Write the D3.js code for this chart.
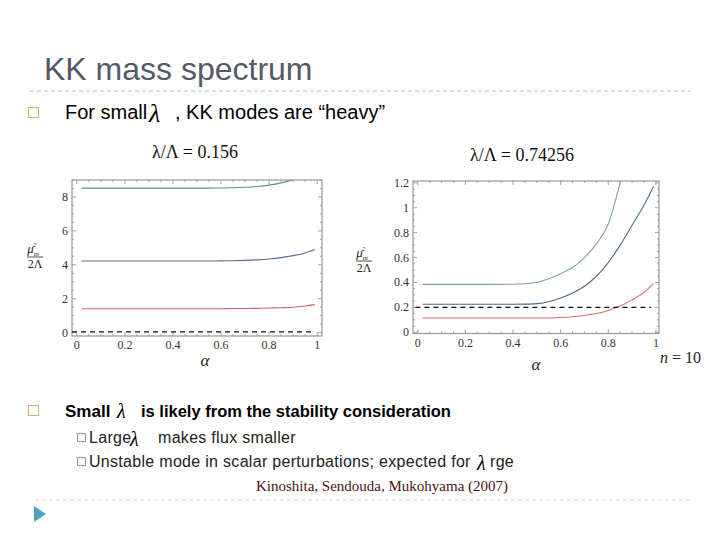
<!DOCTYPE html>
<html><head><meta charset="utf-8">
<script src="https://cdn.jsdelivr.net/npm/d3@7"></script>
<style>body{margin:0;background:#fff}svg{display:block}</style>
</head><body>
<script>
// ---- data ----
const leftAlpha = [0.02,0.1,0.2,0.3,0.4,0.45,0.5,0.55,0.6,0.65,0.7,0.75,0.8,0.85,0.9,0.95,0.99];
const leftTop   = [8.52,8.52,8.52,8.52,8.52,8.52,8.52,8.52,8.53,8.54,8.57,8.62,8.70,8.83,9.02,9.25,9.45];
const leftMid   = [4.22,4.22,4.22,4.22,4.22,4.22,4.22,4.22,4.23,4.24,4.26,4.29,4.34,4.42,4.54,4.70,4.90];
const leftLow   = [1.41,1.41,1.41,1.41,1.41,1.41,1.41,1.41,1.41,1.42,1.42,1.43,1.45,1.47,1.50,1.57,1.65];
const leftDash  = 0.04;
const rightAlpha = [0.02,0.1,0.2,0.3,0.4,0.45,0.5,0.55,0.6,0.65,0.7,0.75,0.8,0.85,0.9,0.95,0.99];
const rightTop   = [0.385,0.385,0.385,0.385,0.386,0.39,0.40,0.43,0.47,0.52,0.60,0.71,0.87,1.20,1.60,2.10,2.60];
const rightMid   = [0.225,0.225,0.225,0.225,0.225,0.226,0.23,0.245,0.275,0.315,0.37,0.45,0.56,0.70,0.86,1.02,1.17];
const rightLow   = [0.115,0.115,0.115,0.115,0.115,0.115,0.115,0.115,0.118,0.125,0.135,0.15,0.175,0.21,0.26,0.32,0.39];
const rightDash  = 0.2;
const leftYTicks = [0,2,4,6,8];
const rightYTicks = [0,0.2,0.4,0.6,0.8,1,1.2];
const xTicks = [0,0.2,0.4,0.6,0.8,1];
const leftTitle = "λ/Λ = 0.156";
const rightTitle = "λ/Λ = 0.74256";

const W=720,H=540;
const svg=d3.select("body").append("svg").attr("width",W).attr("height",H);
svg.append("rect").attr("width",W).attr("height",H).attr("fill","#fff");

const SANS="'Liberation Sans', Arial, sans-serif";
const SERIF="'Liberation Serif','Times New Roman', serif";

// ---- slide text ----
svg.append("text").attr("x",44).attr("y",80).attr("font-family",SANS).attr("font-size",32)
  .attr("fill","#555b66").text("KK mass spectrum");
svg.append("line").attr("x1",30).attr("x2",690).attr("y1",91).attr("y2",91)
  .attr("stroke","#9fbfc9").attr("stroke-width",1).attr("stroke-dasharray","4,3");
svg.append("line").attr("x1",35).attr("x2",690).attr("y1",500).attr("y2",500)
  .attr("stroke","#c4dce3").attr("stroke-width",1).attr("stroke-dasharray","4,3");

function bullet(x,y,s,col){svg.append("rect").attr("x",x).attr("y",y).attr("width",s).attr("height",s)
  .attr("fill","#fff").attr("stroke",col).attr("stroke-width",1);}
function txt(x,y,size,s,opts={}){
  return svg.append("text").attr("x",x).attr("y",y).attr("font-family",opts.serif?SERIF:SANS)
    .attr("font-size",size).attr("font-weight",opts.bold?"bold":null).attr("font-style",opts.italic?"italic":null)
    .attr("letter-spacing",opts.ls||null).attr("fill",opts.fill||"#000").text(s);
}
bullet(28.5,107.5,10,"#c9b46a");
txt(65,119,20,"For small");
txt(149,122,26,"λ",{serif:true,italic:true});
txt(175,119,20,", KK modes are “heavy”");

bullet(28.5,405.5,10,"#c9b46a");
txt(65,417,17,"Small",{bold:true});
txt(117,418,20,"λ",{serif:true,italic:true});
txt(141,417,16.5,"is likely from the stability consideration",{bold:true});

bullet(77.5,433.5,8,"#7f9eaa");
txt(89,443,16,"Large",{ls:0.3,fill:"#222"});
txt(130,446,20,"λ",{serif:true,italic:true});
txt(158,443,16,"makes flux smaller",{ls:0.3,fill:"#222"});

bullet(77.5,457.5,8,"#7f9eaa");
txt(89,467,16,"Unstable mode in scalar perturbations; expected for",{ls:0.3,fill:"#222"});
txt(477,470,20,"λ",{serif:true,italic:true});
txt(490,467,16,"rge",{ls:0.3,fill:"#222"});

txt(256,491,15,"Kinoshita, Sendouda, Mukohyama (2007)",{serif:true,fill:"#4a1414"});

svg.append("path").attr("d","M34,506 L46,514 L34,522 Z").attr("fill","#4aa3c2");

// ---- charts ----
function chart(cfg){
  const x=d3.scaleLinear().domain(cfg.xd).range(cfg.xr);
  const y=d3.scaleLinear().domain(cfg.yd).range(cfg.yr);
  const g=svg.append("g");
  const id="clip"+cfg.id;
  svg.append("clipPath").attr("id",id).append("rect")
    .attr("x",cfg.xr[0]).attr("y",cfg.yr[1]).attr("width",cfg.xr[1]-cfg.xr[0]).attr("height",cfg.yr[0]-cfg.yr[1]);
  const tk=g.append("g").attr("stroke","#888").attr("stroke-width",0.8);
  d3.range(0,1.0001,0.05).forEach(v=>{
    const major=Math.abs(v*5-Math.round(v*5))<1e-6;
    const L=major?4:2;
    tk.append("line").attr("x1",x(v)).attr("x2",x(v)).attr("y1",cfg.yr[0]).attr("y2",cfg.yr[0]-L);
    tk.append("line").attr("x1",x(v)).attr("x2",x(v)).attr("y1",cfg.yr[1]).attr("y2",cfg.yr[1]+L);
  });
  d3.range(0,cfg.yd[1]+1e-6,cfg.yMinor).forEach(v=>{
    const major=cfg.yTicks.some(t=>Math.abs(t-v)<1e-6);
    const L=major?4:2;
    tk.append("line").attr("y1",y(v)).attr("y2",y(v)).attr("x1",cfg.xr[0]).attr("x2",cfg.xr[0]+L);
    tk.append("line").attr("y1",y(v)).attr("y2",y(v)).attr("x1",cfg.xr[1]).attr("x2",cfg.xr[1]-L);
  });
  g.append("rect").attr("x",cfg.xr[0]).attr("y",cfg.yr[1]).attr("width",cfg.xr[1]-cfg.xr[0])
    .attr("height",cfg.yr[0]-cfg.yr[1]).attr("fill","none").attr("stroke","#999").attr("stroke-width",1.2);
  g.selectAll(".xl").data(xTicks).enter().append("text").attr("x",d=>x(d)).attr("y",cfg.yr[0]+13)
    .attr("text-anchor","middle").attr("font-family",SERIF).attr("font-size",12).attr("fill","#333").text(d=>d);
  g.selectAll(".yl").data(cfg.yTicks).enter().append("text").attr("x",cfg.xr[0]-4).attr("y",d=>y(d)+4)
    .attr("text-anchor","end").attr("font-family",SERIF).attr("font-size",12).attr("fill","#333").text(d=>d);
  const line=d3.line().x(d=>x(d[0])).y(d=>y(d[1])).curve(d3.curveMonotoneX);
  const lg=g.append("g").attr("clip-path","url(#"+id+")").attr("fill","none");
  cfg.series.forEach(s=>{
    lg.append("path").attr("d",line(cfg.alpha.map((a,i)=>[a,s.v[i]]))).attr("stroke",s.c).attr("stroke-width",1.1);
  });
  lg.append("line").attr("x1",x(cfg.dashX[0])).attr("x2",x(cfg.dashX[1])).attr("y1",y(cfg.dash)).attr("y2",y(cfg.dash))
    .attr("stroke","#111").attr("stroke-width",1.2).attr("stroke-dasharray","5,4");
  svg.append("text").attr("x",cfg.title[0]).attr("y",cfg.title[1]).attr("text-anchor","middle")
    .attr("font-family",SERIF).attr("font-size",18).attr("fill","#111").text(cfg.title[2]);
  svg.append("text").attr("x",cfg.alab[0]).attr("y",cfg.alab[1]).attr("text-anchor","middle")
    .attr("font-family",SERIF).attr("font-style","italic").attr("font-size",17).attr("fill","#222").text("α");
  const fx=cfg.frac[0], fy=cfg.frac[1];
  const num=svg.append("text").attr("x",fx-2).attr("y",fy-4).attr("text-anchor","middle")
    .attr("font-family",SERIF).attr("font-style","italic").attr("font-size",13).attr("fill","#222");
  num.append("tspan").text("μ");
  num.append("tspan").attr("font-size",7).attr("dy",3).text("m");
  num.append("tspan").attr("font-size",7).attr("dx",-6).attr("dy",-9).text("2");
  svg.append("line").attr("x1",fx-8).attr("x2",fx+8).attr("y1",fy).attr("y2",fy).attr("stroke","#222").attr("stroke-width",0.8);
  svg.append("text").attr("x",fx).attr("y",fy+11).attr("text-anchor","middle")
    .attr("font-family",SERIF).attr("font-size",12).attr("fill","#222").text("2Λ");
}

chart({id:"L",xd:[-0.02,1.02],xr:[72,322],yd:[-0.2,9.0],yr:[336,180],yMinor:0.5,yTicks:leftYTicks,
  alpha:leftAlpha,series:[{v:leftTop,c:"#5f8f90"},{v:leftMid,c:"#56708f"},{v:leftLow,c:"#cf6464"}],
  dash:leftDash,dashX:[-0.02,0.99],title:[195,158,leftTitle],alab:[205,366],frac:[35,257]});

chart({id:"R",xd:[-0.02,1.013],xr:[413,659],yd:[-0.01,1.215],yr:[333.5,181],yMinor:0.05,yTicks:rightYTicks,
  alpha:rightAlpha,series:[{v:rightTop,c:"#7fa0b3"},{v:rightMid,c:"#4d6a8d"},{v:rightLow,c:"#e06a6a"}],
  dash:rightDash,dashX:[-0.01,0.98],title:[522,161,rightTitle],alab:[536,370],frac:[364,261]});

const nt=svg.append("text").attr("x",660).attr("y",363).attr("font-family",SERIF).attr("font-size",16).attr("fill","#222");
nt.append("tspan").attr("font-style","italic").text("n");
nt.append("tspan").text(" = 10");
</script>
</body></html>
